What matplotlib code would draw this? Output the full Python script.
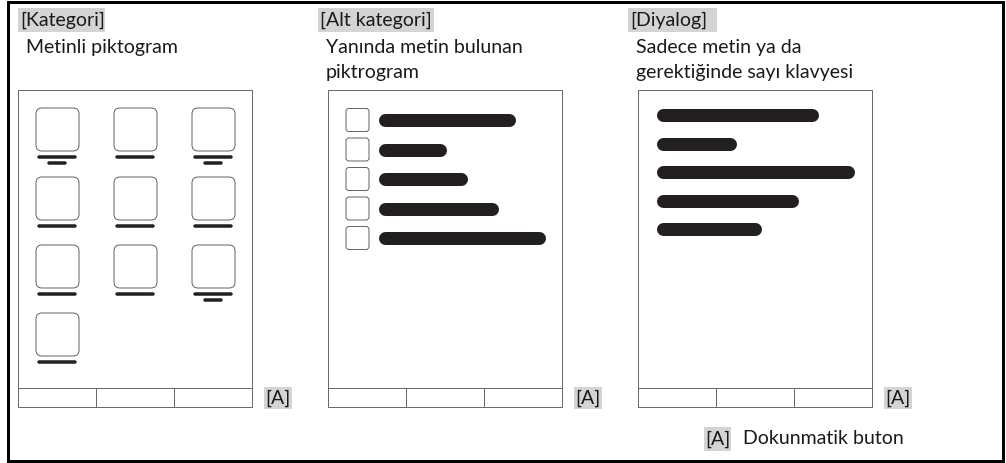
import matplotlib.pyplot as plt
from matplotlib.patches import Rectangle, FancyBboxPatch

plt.rcParams['font.family'] = ['Lato', 'DejaVu Sans']

# texts
titles = ['[Kategori]', '[Alt kategori]', '[Diyalog]']
subtitles = [['Metinli piktogram'],
             ['Yanında metin bulunan', 'piktrogram'],
             ['Sadece metin ya da', 'gerektiğinde sayı klavyesi']]
button_tag = '[A]'
legend_text = 'Dokunmatik buton'

# panel 1: icon grid (row, col, label has a second short line)
icon_rows = [0, 0, 0, 1, 1, 1, 2, 2, 2, 3]
icon_cols = [0, 1, 2, 0, 1, 2, 0, 1, 2, 0]
icon_two_lines = [True, False, True, False, False, False, False, False, True, False]

# panel 2 / 3: text bar lengths (px)
alt_bar_len = [137, 68, 89, 120, 167]
dlg_bar_len = [162, 80, 198, 142, 105]

W, H = 1006, 463
fig = plt.figure(figsize=(W / 100, H / 100), dpi=100)
ax = fig.add_axes([0, 0, 1, 1])
ax.set_xlim(0, W)
ax.set_ylim(H, 0)
ax.axis('off')

PX = 72 / 100  # points per pixel
FS = 14
frame_col = '#6a6a6a'
bar_col = '#231f20'
txt_col = '#1a1a1a'
tag_bg = '#d4d4d4'

# outer border
ax.add_patch(Rectangle((8, 1.5), 995.5, 459, fill=False, ec='black', lw=3 * PX))

panel_x = [18, 328, 638]
panel_w = 234
top, btn_top, bottom = 90, 388, 407
title_bg_w = [87, 116, 89]

for i, x0 in enumerate(panel_x):
    lx = x0 - 10 if i else x0
    # titles
    ax.add_patch(Rectangle((lx, 8), title_bg_w[i], 24, fc=tag_bg, ec='none'))
    ax.text(lx + 2, 20, titles[i], fontsize=FS, va='center', ha='left', color=txt_col)
    for j, s in enumerate(subtitles[i]):
        ax.text(lx + 8, 53 + j * 25, s, fontsize=FS, va='baseline', ha='left', color=txt_col)
    # device frame
    ax.add_patch(Rectangle((x0, top), panel_w, bottom - top, fill=False, ec=frame_col, lw=1 * PX))
    ax.plot([x0, x0 + panel_w], [btn_top, btn_top], color=frame_col, lw=1 * PX)
    for k in (1, 2):
        xd = x0 + panel_w * k / 3
        ax.plot([xd, xd], [btn_top, bottom], color=frame_col, lw=1 * PX)
    # [A] tag
    tx = x0 + panel_w + 12
    ax.add_patch(Rectangle((tx, 387), 28, 22, fc=tag_bg, ec='none'))
    ax.text(tx + 14, 398.5, button_tag, fontsize=FS, ha='center', va='center', color=txt_col)

# panel 1 icons
col_x = [36, 114, 192]
row_y = [108, 177, 245, 313]
for r, c, two in zip(icon_rows, icon_cols, icon_two_lines):
    x, y = col_x[c], row_y[r]
    ax.add_patch(FancyBboxPatch((x, y), 43, 43, boxstyle='round,pad=0,rounding_size=6',
                                fill=False, ec='#555555', lw=0.9 * PX))
    ax.plot([x + 3.5, x + 39.5], [y + 49, y + 49], color=bar_col, lw=3.5 * PX, solid_capstyle='round')
    if two:
        ax.plot([x + 13.5, x + 29.5], [y + 55, y + 55], color=bar_col, lw=3.5 * PX, solid_capstyle='round')

# panel 2 list
for k, ln in enumerate(alt_bar_len):
    yc = 120 + k * 29.5
    ax.add_patch(FancyBboxPatch((346, yc - 11.5), 23, 23, boxstyle='round,pad=0,rounding_size=3',
                                fill=False, ec='#555555', lw=0.9 * PX))
    ax.plot([379 + 6.5, 379 + ln - 6.5], [yc, yc], color=bar_col, lw=13 * PX, solid_capstyle='round')

# panel 3 dialog text
for k, ln in enumerate(dlg_bar_len):
    yc = 115 + k * 28.5
    ax.plot([657 + 6.5, 657 + ln - 6.5], [yc, yc], color=bar_col, lw=13 * PX, solid_capstyle='round')

# legend
ax.add_patch(Rectangle((704, 427), 27, 24, fc=tag_bg, ec='none'))
ax.text(717.5, 439, button_tag, fontsize=FS, ha='center', va='center', color=txt_col)
ax.text(743, 439, legend_text, fontsize=FS, ha='left', va='center', color=txt_col)

fig.savefig('out.png', dpi=100)
